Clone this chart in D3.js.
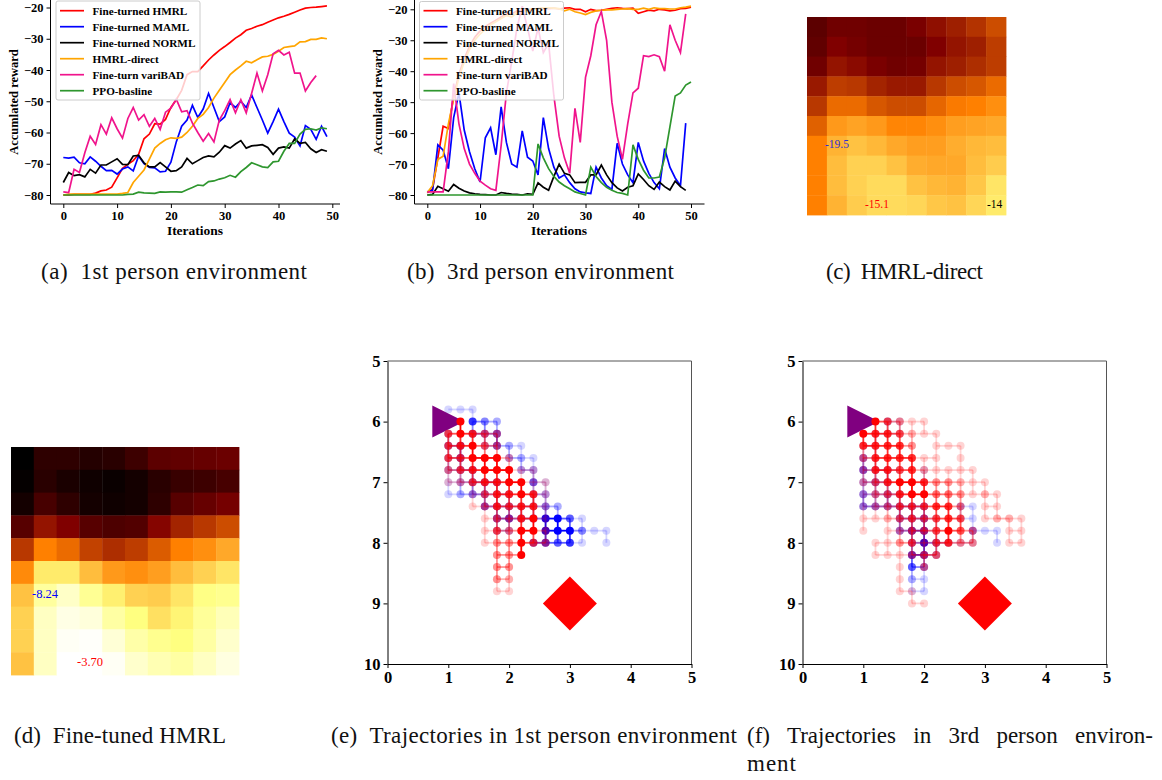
<!DOCTYPE html>
<html>
<head>
<meta charset="utf-8">
<script src="https://d3js.org/d3.v7.min.js"></script>
<style>
html, body { margin: 0; padding: 0; background: #fff; }
svg { display: block; }
text { font-family: "Liberation Serif", serif; fill: #000; }
.axis text { font-family: "Liberation Serif", serif; font-weight: bold; }
.axis path, .axis line { stroke: #000; }
.caption { font-size: 23px; fill: #111; }
</style>
</head>
<body>
<svg id="chart" width="1162" height="780"></svg>
<script>
var seriesNames = ["Fine-turned HMRL", "Fine-turned MAML", "Fine-turned NORML", "HMRL-direct", "Fine-turn variBAD", "PPO-basline"];
var seriesColors = ["#ff0000", "#0000ff", "#000000", "#ffa500", "#f0148c", "#2e962e"];

// panel (a), 1st person
var hmrlA = [-80,-80,-79.8,-79.8,-79.8,-79.8,-79.4,-78.7,-78.4,-77.5,-74.5,-71.5,-70.2,-69,-67,-62,-60.5,-57.2,-57.3,-55.8,-52,-49.5,-46.5,-41.5,-40.5,-40.5,-38.7,-36.8,-35.2,-33.7,-32.5,-31.2,-29.8,-28.7,-27.3,-26.7,-26,-25.5,-24.7,-24,-23.3,-22.8,-22.2,-21.5,-20.8,-20.2,-20,-19.9,-19.7,-19.5];
var mamlA = [-68,-68.2,-67.9,-69.7,-70,-67.8,-69.2,-70.8,-72.2,-72.1,-73.3,-71.7,-71,-72.3,-67.5,-70,-71.2,-71.3,-72.6,-72.4,-69.5,-63,-58,-56,-51.3,-55.2,-52.5,-47.5,-52,-56.5,-55,-50.5,-52,-50,-52,-48,-52,-56,-60.2,-56.5,-52.5,-56.5,-60.2,-61.5,-64.3,-57.8,-59,-62.2,-58,-61.3];
var normlA = [-76,-72.8,-73.8,-73.5,-74.2,-71.8,-73,-70.4,-70.4,-69.4,-68.4,-70.2,-70.3,-67.5,-67.3,-69.7,-71,-71,-69.6,-71,-72.4,-72.2,-71,-68.3,-70,-69,-68,-67.5,-67.8,-66.3,-64.2,-65,-63.7,-62.6,-65,-64.3,-64.1,-63.9,-64.8,-67,-65,-64.6,-65,-62,-63.5,-63.2,-65.2,-66.4,-65.5,-66];
var directA = [-80,-79.7,-79.7,-79.7,-79.7,-79.7,-79.7,-79.7,-79.7,-79.7,-79.7,-79.5,-79.2,-76,-74,-72,-68.5,-65,-63.5,-62.3,-61.7,-61.9,-61.5,-60,-58,-55.5,-54.2,-52,-49,-46.5,-44,-41.5,-40,-38.7,-37.2,-37.7,-36.7,-35.8,-35.6,-35,-34,-32.8,-32.5,-32.3,-31,-30.9,-30.2,-30.2,-29.7,-30];
var varibadA = [-79,-79.2,-71.8,-72.8,-66.5,-61.2,-63.8,-57.5,-60.5,-55.3,-58.8,-61.8,-55.5,-52,-56,-54.3,-58,-55.5,-59,-53.5,-52.2,-49.3,-53.4,-53,-57,-60,-62.8,-60.3,-63,-56,-53,-49.5,-53.7,-49.5,-53.7,-47.5,-41,-46.7,-41.5,-34.8,-33.7,-35.2,-34.3,-41,-41,-46.7,-44,-41.8];
var ppoA = [-80,-80,-80,-80,-80,-80,-80,-80,-80,-80,-80,-80,-79.8,-79.7,-79.1,-79.3,-79.4,-79.5,-79,-79.1,-79,-79,-79.1,-78.3,-77.6,-76.8,-77,-75.7,-75.5,-74.9,-74.5,-73.7,-74.3,-72.5,-71.2,-69.7,-70.3,-71,-71.2,-69.4,-69.2,-66,-63.5,-63.5,-60.5,-59,-58.8,-59.2,-58.5,-58.8];

// panel (b), 3rd person
var hmrlB = [-79.3,-78,-68,-57.8,-58.5,-48,-41,-36,-32,-29,-27,-25.5,-24.5,-23.5,-22.5,-21.5,-21.5,-20.5,-20.5,-20,-20,-19.8,-19.8,-19.8,-19.6,-19.9,-19.6,-19.5,-20,-20,-20.8,-20,-20.4,-20.3,-20,-19.7,-19.5,-19.7,-19.8,-19.6,-21.3,-20.8,-20.3,-20.5,-20,-20.2,-20.5,-20.3,-19.8,-19.7,-19.3];
var mamlB = [-79,-78.5,-63.8,-65.5,-71.5,-55,-47,-59,-66,-71.5,-75.8,-61.5,-58.3,-67,-51.5,-63,-70,-71,-59.3,-67.8,-69,-73.5,-55,-65,-71,-74.5,-73.5,-76,-78,-79,-79.3,-79.5,-71,-74.5,-77,-78.2,-63.3,-70,-73.5,-76,-63,-69,-73,-76,-78,-65,-71,-74.5,-77,-56.8];
var normlB = [-80,-79.8,-77.2,-78,-78.8,-76.6,-77.8,-78.7,-79.3,-79.6,-79.8,-79.9,-80,-80,-79.2,-79.5,-79.7,-79.8,-80,-79.6,-79.8,-76.1,-77.5,-78.5,-74,-70,-73,-73.5,-76,-75.9,-75.9,-73.5,-73.5,-70.3,-73.5,-76,-77.7,-78.7,-77.5,-77,-73.2,-75,-77,-78.2,-75.8,-77.3,-78.4,-75.5,-77.3,-78.5];
var directB = [-79.2,-77,-68.5,-67.5,-57,-49,-42,-37,-33,-30,-28,-26.5,-25,-24,-23,-22,-22.5,-21,-21,-20.2,-20,-19.8,-19.5,-19.5,-19.6,-19.8,-20.5,-20,-20.8,-21.2,-21.7,-21,-20.5,-20.3,-20.2,-20.2,-20,-19.9,-19.8,-20,-20,-19.6,-20,-19.5,-19.8,-19.8,-19.9,-19.9,-19.5,-19.3,-19];
var varibadB = [-79,-79,-79,-79,-66,-44,-57,-65,-70,-73,-75.5,-76.8,-78,-78.5,-64,-47,-37,-26,-19,-26,-33.5,-26,-34,-31,-48,-61,-68,-73,-52,-63,-42,-35,-25,-20.7,-30,-50,-61,-68.5,-57,-47,-45.5,-35,-35.3,-34.7,-35.3,-40,-25,-30,-34,-21.5];
var ppoB = [-80,-80,-80,-80,-80,-80,-80,-80,-80,-80,-80,-80,-80,-80,-80,-80,-80,-80,-80,-80,-80,-63.5,-68,-71.5,-74,-75.8,-77,-78,-79,-79.5,-80,-71,-74,-76,-77.5,-78.5,-79.2,-79.5,-80,-63.8,-68.5,-72,-74.5,-74.5,-74.2,-68,-58,-48,-47,-44.5,-43.5];

var xTicksLine = [0, 10, 20, 30, 40, 50];
var yTicksLine = [-20, -30, -40, -50, -60, -70, -80];

// heatmaps, brightness on the afmhot colour map
var heatC = [
  [.18,.22,.22,.21,.21,.24,.28,.31,.35,.40],
  [.19,.25,.23,.21,.21,.21,.25,.29,.31,.37],
  [.22,.29,.27,.24,.22,.23,.29,.31,.34,.37],
  [.30,.37,.36,.32,.30,.30,.36,.40,.42,.46],
  [.36,.46,.46,.42,.40,.40,.45,.49,.50,.53],
  [.44,.55,.57,.55,.51,.51,.53,.56,.57,.58],
  [.50,.60,.63,.61,.58,.56,.56,.59,.61,.62],
  [.50,.62,.66,.66,.63,.59,.58,.58,.62,.65],
  [.50,.62,.66,.68,.68,.63,.61,.60,.64,.70],
  [.50,.60,.65,.68,.68,.67,.64,.63,.67,.71]
];
var heatD = [
  [.00,.09,.09,.07,.08,.12,.18,.19,.20,.21],
  [.01,.08,.05,.03,.02,.04,.08,.11,.12,.14],
  [.04,.14,.09,.04,.03,.04,.09,.17,.20,.23],
  [.17,.29,.25,.17,.15,.16,.26,.32,.36,.40],
  [.36,.50,.46,.38,.34,.37,.43,.50,.53,.58],
  [.52,.71,.71,.62,.55,.53,.56,.62,.66,.70],
  [.63,.81,.89,.79,.72,.66,.65,.70,.76,.78],
  [.66,.88,.95,.93,.82,.75,.69,.73,.80,.86],
  [.66,.88,.98,.99,.92,.83,.78,.75,.82,.90],
  [.63,.88,1.0,1.0,.98,.90,.85,.82,.88,.94]
];

// trajectory visits, one string per row (y 5.8, 6.0 ... 9.0), one digit per column (x 1.0, 1.2 ... 3.6)
var blueE = ["11100000000000","00532000000000","20334000000000","34024210000000","24000221000000","23300022000000","12333004100000","12332202200000","00043322320000","00004533774100","00002200788311","00000004545101","00000000000000","00000000000000","00000000000000","00000000000000","00000000000000"];
var redE = ["00000000000000","07000000000000","57643000000000","56743000000000","55777200000000","35677711000000","12566771100000","00146676100000","00136566100000","00014367100000","00015377200000","00013375300000","00003370000000","00003300000000","00003200000000","00001100000000","00000000000000"];
var blueF = ["00000000000000","00210000000000","01110000000000","11000000000000","31000000000000","42210100000000","23200100000000","32320000000000","33333300210000","00033410110000","00035510031100","00003732110100","00005520000000","00004300000000","00002100000000","00001100000000","00000000000000"];
var redF = ["00000000000000","07531100000000","76652110000000","66663011100000","36666110100000","26656211110000","24677633211000","13467744312100","12355566301100","11245456501221","10124457530011","01135256330011","01113440000000","00010300000000","00010000000000","00011000000000","00001100000000"];
var redAlpha = [0, 0.17, 0.3, 0.42, 0.55, 0.68, 0.82, 1];

var gridTicks = [0, 1, 2, 3, 4, 5];
var gridYTicks = [5, 6, 7, 8, 9, 10];
var startPoint = [1, 6];
var goalPoint = [3, 9];

var svg = d3.select("#chart");

function afmhot(t) {
  var c = function(v) { return Math.round(255 * Math.max(0, Math.min(1, v))); };
  return d3.rgb(c(2 * t), c(2 * t - 0.5), c(2 * t - 1));
}

function linePanel(series, o) {
  var x = d3.scaleLinear().domain([0, 50]).range([o.x0, o.x50]);
  var y = d3.scaleLinear().domain([-80, -20]).range([195, o.yTop]);
  var g = svg.append("g");

  var line = d3.line()
      .x(function(d, i) { return x(i); })
      .y(function(d) { return y(d); });

  series.forEach(function(s, i) {
    g.append("path")
        .attr("d", line(s))
        .attr("fill", "none")
        .attr("stroke", seriesColors[i])
        .attr("stroke-width", 1.7);
  });

  var xAxis = d3.axisBottom(x).tickValues(xTicksLine).tickSize(4).tickSizeOuter(0);
  var yAxis = d3.axisLeft(y).tickValues(yTicksLine).tickSize(4).tickFormat(function(d) { return "\u2212" + Math.abs(d); });

  var ax = g.append("g").attr("class", "axis").attr("transform", "translate(0,204)").call(xAxis);
  var ay = g.append("g").attr("class", "axis").attr("transform", "translate(" + o.left + ",0)").call(yAxis);
  ax.select(".domain").attr("d", "M" + o.left + ",0H" + o.right);
  ay.select(".domain").attr("d", "M0,0V204");
  ax.selectAll("text").style("font-size", "12.5px");
  ay.selectAll("text").style("font-size", "12.5px");

  g.append("text")
      .attr("transform", "translate(" + o.labelX + ",102) rotate(-90)")
      .attr("text-anchor", "middle")
      .style("font-size", "12.5px")
      .style("font-weight", "bold")
      .text("Accumlated reward");
  g.append("text")
      .attr("x", o.iterX)
      .attr("y", 235)
      .attr("text-anchor", "middle")
      .style("font-size", "13.5px")
      .style("font-weight", "bold")
      .text("Iterations");

  // legend
  g.append("rect")
      .attr("x", o.legX).attr("y", o.legY)
      .attr("width", o.legW).attr("height", 100 - o.legY)
      .attr("rx", 2)
      .attr("fill", "#fff").attr("fill-opacity", 0.8)
      .attr("stroke", "#ccc").attr("stroke-width", 1);

  seriesNames.forEach(function(name, i) {
    var ly = 10.7 + i * 16;
    g.append("line")
        .attr("x1", o.legX + 4).attr("x2", o.legX + 28)
        .attr("y1", ly).attr("y2", ly)
        .attr("stroke", seriesColors[i]).attr("stroke-width", 1.7);
    g.append("text")
        .attr("x", o.legX + 36.5).attr("y", ly + 3.8)
        .style("font-size", "11.2px")
        .style("font-weight", "bold")
        .text(name);
  });
}

function heatPanel(data, x0, x1, y0, y1) {
  var idx = d3.range(10);
  var x = d3.scaleBand().domain(idx).range([x0, x1]);
  var y = d3.scaleBand().domain(idx).range([y0, y1]);
  var g = svg.append("g");
  data.forEach(function(row, r) {
    g.selectAll(null)
        .data(row)
      .enter().append("rect")
        .attr("x", function(d, c) { return x(c); })
        .attr("y", y(r))
        .attr("width", x.bandwidth() + 0.4)
        .attr("height", y.bandwidth() + 0.4)
        .attr("fill", function(d) { return afmhot(d); });
  });
}

function note(txt, xp, yp, color, size) {
  svg.append("text")
      .attr("x", xp).attr("y", yp)
      .style("fill", color)
      .style("font-size", size + "px")
      .text(txt);
}

function trajPanel(blue, red, left, right) {
  var x = d3.scaleLinear().domain([0, 5]).range([left, right]);
  var y = d3.scaleLinear().domain([5, 10]).range([361, 664]);
  var g = svg.append("g");

  function layer(rows, color, alpha) {
    var cells = [], edges = [];
    rows.forEach(function(row, r) {
      row.split("").forEach(function(ch, c) {
        var n = +ch;
        if (!n) return;
        var px = 1 + c * 0.2, py = 5.8 + r * 0.2;
        cells.push({x: px, y: py, n: n});
        var nextC = +row[c + 1] || 0;
        var nextR = rows[r + 1] ? +rows[r + 1][c] : 0;
        if (nextC) edges.push({x: px, y: py, x2: px + 0.2, y2: py, n: Math.min(n, nextC)});
        if (nextR) edges.push({x: px, y: py, x2: px, y2: py + 0.2, n: Math.min(n, nextR)});
      });
    });
    g.selectAll(null).data(edges).enter().append("line")
        .attr("x1", function(d) { return x(d.x); })
        .attr("y1", function(d) { return y(d.y); })
        .attr("x2", function(d) { return x(d.x2); })
        .attr("y2", function(d) { return y(d.y2); })
        .attr("stroke", color)
        .attr("stroke-width", 1.8)
        .attr("stroke-opacity", function(d) { return alpha(d.n); });
    g.selectAll(null).data(cells).enter().append("circle")
        .attr("cx", function(d) { return x(d.x); })
        .attr("cy", function(d) { return y(d.y); })
        .attr("r", 4)
        .attr("fill", color)
        .attr("fill-opacity", function(d) { return alpha(d.n); });
  }

  layer(blue, "#0000ff", function(n) { return Math.min(1, n * 0.16); });

  // start marker sits between the two layers
  var sx = x(startPoint[0]), sy = y(startPoint[1]);
  g.append("path")
      .attr("d", "M" + (sx - 16) + "," + (sy - 16) + "L" + (sx + 16) + "," + sy + "L" + (sx - 16) + "," + (sy + 16) + "Z")
      .attr("fill", "#800080");

  layer(red, "#ff0000", function(n) { return redAlpha[n]; });

  var gx = x(goalPoint[0]), gy = y(goalPoint[1]);
  g.append("path")
      .attr("d", "M" + gx + "," + (gy - 27) + "L" + (gx + 27) + "," + gy + "L" + gx + "," + (gy + 27) + "L" + (gx - 27) + "," + gy + "Z")
      .attr("fill", "#ff0000");

  var ax = g.append("g").attr("class", "axis").attr("transform", "translate(0,664)")
      .call(d3.axisBottom(x).tickValues(gridTicks).tickFormat(d3.format("d")).tickSize(4).tickSizeOuter(0));
  var ay = g.append("g").attr("class", "axis").attr("transform", "translate(" + left + ",0)")
      .call(d3.axisLeft(y).tickValues(gridYTicks).tickFormat(d3.format("d")).tickSize(4).tickSizeOuter(0));
  ax.selectAll("text").style("font-size", "16.5px");
  ay.selectAll("text").style("font-size", "16.5px");

  g.append("path")
      .attr("d", "M" + left + ",361H" + right + "V664")
      .attr("fill", "none")
      .attr("stroke", "#555")
      .attr("stroke-width", 1);
}

linePanel([hmrlA, mamlA, normlA, directA, varibadA, ppoA], {
  x0: 63.3, x50: 332.3, yTop: 7.5, left: 50.5, right: 340, labelX: 18, iterX: 195, legX: 56, legY: 1, legW: 144
});
linePanel([hmrlB, mamlB, normlB, directB, varibadB, ppoB], {
  x0: 427.3, x50: 691, yTop: 9.3, left: 414.5, right: 704.5, labelX: 382, iterX: 559, legX: 419.5, legY: 1.5, legW: 144
});

heatPanel(heatC, 807, 1006, 17, 215);
note("-19.5", 825, 148, "#3030d0", 11.5);
note("-15.1", 865, 208, "#ff0000", 11.5);
note("-14", 987, 208, "#000000", 11.5);

heatPanel(heatD, 11, 239, 447, 675);
note("-8.24", 32, 598, "#0000ff", 12.5);
note("-3.70", 77, 666, "#ff0000", 12.5);

trajPanel(blueE, redE, 387.5, 691.5);
trajPanel(blueF, redF, 802.5, 1106.5);

// captions
function caption(txt, xp, yp, len) {
  var t = svg.append("text")
      .attr("class", "caption")
      .attr("x", xp).attr("y", yp)
      .style("white-space", "pre")
      .text(txt);
  if (len) t.attr("textLength", len).attr("lengthAdjust", "spacing");
}
caption("(a)  1st person environment", 41, 279, 266);
caption("(b)  3rd person environment", 407, 279, 267);
caption("(c)  HMRL-direct", 826, 279, 157);
caption("(d)  Fine-tuned HMRL", 14, 743, 212);
caption("(e)  Trajectories in 1st person environment", 331, 743, 406);
caption("(f)   Trajectories   in   3rd   person   environ-", 747, 743, 406);
caption("ment", 747, 771, 49);
</script>
</body>
</html>
